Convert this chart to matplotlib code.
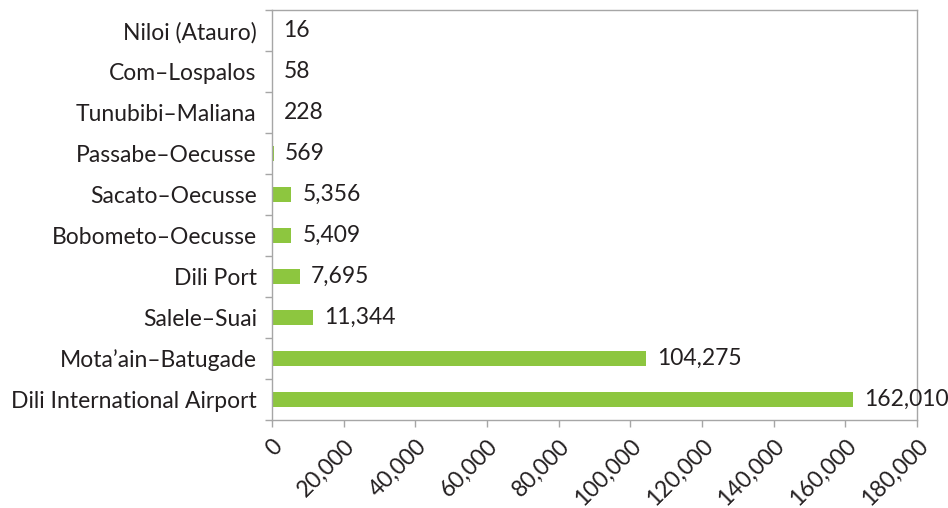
import matplotlib
matplotlib.use("Agg")
import matplotlib.pyplot as plt
import numpy as np

categories = ["Dili International Airport", "Mota\u2019ain\u2013Batugade", "Salele\u2013Suai", "Dili Port",
              "Bobometo\u2013Oecusse", "Sacato\u2013Oecusse", "Passabe\u2013Oecusse", "Tunubibi\u2013Maliana",
              "Com\u2013Lospalos", "Niloi (Atauro)"]
values = [162010, 104275, 11344, 7695, 5409, 5356, 569, 228, 58, 16]
xticks = list(range(0, 180001, 20000))

plt.rcParams['font.family'] = ['Lato', 'DejaVu Sans']
text_color = "#231F20"
spine_color = "#A6A6A6"
green = "#8DC63F"
fs = 16.5

fig = plt.figure(figsize=(9.48, 5.08), dpi=100)
ax = fig.add_axes([272/948, 1-420/508, (917-272)/948, (420-10)/508])

y = np.arange(len(categories))
ax.barh(y, values, height=0.36, color=green)
ax.set_xlim(0, 180000)
ax.set_ylim(-0.5, len(categories)-0.5)

for yi, v in zip(y, values):
    ax.annotate(f"{v:,}", (v, yi), xytext=(8, 0), textcoords="offset points",
                va="center", ha="left", fontsize=fs, color=text_color)

ax.set_yticks(y)
ax.set_yticklabels(categories, fontsize=fs, color=text_color)
ax.set_yticks(np.arange(-0.5, len(categories), 1), minor=True)
ax.tick_params(axis="y", which="major", length=0, pad=11)
ax.tick_params(axis="y", which="minor", length=5, color=spine_color, width=1)

ax.set_xticks(xticks)
ax.set_xticklabels([f"{t:,}" for t in xticks], rotation=45, ha="right", va="top",
                   rotation_mode="anchor", fontsize=fs, color=text_color)
ax.tick_params(axis="x", length=5, color=spine_color, width=1, pad=6)

for s in ax.spines.values():
    s.set_color(spine_color)
    s.set_linewidth(1)

fig.savefig("out.png", dpi=100)
